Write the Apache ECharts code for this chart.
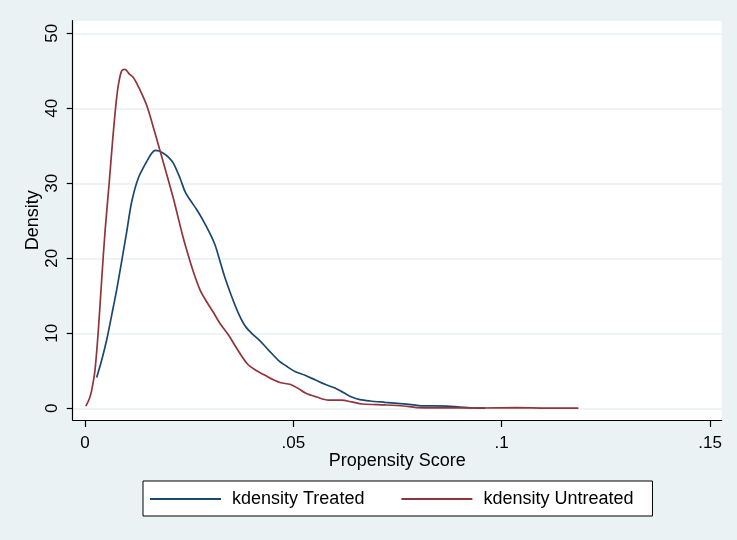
<!DOCTYPE html>
<html>
<head>
<meta charset="utf-8">
<title>Propensity Score kdensity</title>
<script src="https://cdn.jsdelivr.net/npm/echarts@6/dist/echarts.min.js"></script>
<style>
  html, body { margin: 0; padding: 0; background: #eaf2f3; }
  #chart { width: 737px; height: 540px; }
</style>
</head>
<body>
<div id="chart"></div>
<script>
// Kernel density estimates of the propensity score, treated group
const treatedScore = [0.0028, 0.0040, 0.0052, 0.0064, 0.0076, 0.0088, 0.0100, 0.0112, 0.0128, 0.0148,
  0.0160, 0.0168, 0.0178, 0.0188, 0.0200, 0.0212, 0.0228, 0.0240, 0.0252, 0.0268,
  0.0284, 0.0300, 0.0312, 0.0324, 0.0336, 0.0352, 0.0368, 0.0384, 0.0400, 0.0420,
  0.0440, 0.0464, 0.0484, 0.0504, 0.0528, 0.0552, 0.0576, 0.0600, 0.0620, 0.0640,
  0.0660, 0.0684, 0.0720, 0.0764, 0.0790, 0.0812, 0.0840, 0.0868, 0.0900, 0.0932, 0.0960];
const treatedDensity = [4.1, 6.4, 9.1, 12.4, 15.8, 19.6, 23.5, 27.5, 30.7, 32.9,
  34.0, 34.4, 34.3, 34.0, 33.5, 32.7, 30.7, 28.9, 27.8, 26.5,
  25.0, 23.3, 21.8, 19.6, 17.4, 14.9, 12.7, 11.0, 10.0, 9.0,
  7.8, 6.4, 5.6, 4.9, 4.4, 3.8, 3.2, 2.7, 2.1, 1.5,
  1.15, 0.97, 0.80, 0.60, 0.45, 0.32, 0.32, 0.30, 0.15, 0.04, 0.02];

// Kernel density estimates of the propensity score, untreated group
const untreatedScore = [0.0002, 0.0010, 0.0016, 0.0024, 0.0032, 0.0040, 0.0048, 0.0058, 0.0066, 0.0074,
  0.0080, 0.0088, 0.0096, 0.0106, 0.0116, 0.0128, 0.0148, 0.0168, 0.0192, 0.0212,
  0.0234, 0.0244, 0.0260, 0.0276, 0.0292, 0.0308, 0.0324, 0.0344, 0.0364, 0.0390,
  0.0412, 0.0432, 0.0452, 0.0470, 0.0492, 0.0510, 0.0530, 0.0556, 0.0584, 0.0616,
  0.0640, 0.0666, 0.0720, 0.0764, 0.0796, 0.0860, 0.0950, 0.1036, 0.1100, 0.1184];
const untreatedDensity = [0.3, 1.2, 2.4, 5.1, 10.4, 17.1, 23.5, 30.0, 35.5, 40.4,
  43.1, 45.0, 45.2, 44.6, 44.1, 42.9, 40.4, 36.7, 32.0, 28.0,
  23.1, 21.1, 18.2, 15.8, 14.2, 12.8, 11.3, 9.8, 8.0, 5.9,
  5.0, 4.4, 3.8, 3.4, 3.2, 2.7, 2.0, 1.5, 1.1, 1.1,
  0.85, 0.57, 0.45, 0.31, 0.10, 0.06, 0.04, 0.08, 0.03, 0.02];

const seriesNames = ['kdensity Treated', 'kdensity Untreated'];

// Axis ticks and their printed labels
const xTickValues = [0, 0.05, 0.1, 0.15];
const xTickLabels = ['0', '.05', '.1', '.15'];
const yTickValues = [0, 10, 20, 30, 40, 50];
const yTickLabels = ['0', '10', '20', '30', '40', '50'];

const zip = (xs, ys) => xs.map((x, i) => [x, ys[i]]);
const labelFor = (values, labels) => (v) => {
  let best = 0;
  values.forEach((t, i) => { if (Math.abs(t - v) < Math.abs(values[best] - v)) best = i; });
  return labels[best];
};

const FONT = '"Liberation Sans", Arial, sans-serif';
const chart = echarts.init(document.getElementById('chart'), null, { renderer: 'canvas' });

chart.setOption({
  backgroundColor: '#eaf2f3',
  animation: false,
  grid: {
    left: 72.7, top: 20.7, right: 15.3, bottom: 120,
    show: true, backgroundColor: '#ffffff', borderWidth: 0, containLabel: false
  },
  xAxis: {
    type: 'value',
    min: -0.00295, max: 0.1528,
    name: 'Propensity Score',
    nameLocation: 'middle',
    nameGap: 32,
    nameMoveOverlap: false,
    nameTextStyle: { fontFamily: FONT, fontSize: 18, color: '#000' },
    axisLine: { show: true, onZero: false, lineStyle: { color: '#000', width: 1.2 } },
    axisTick: { show: true, length: 7, lineStyle: { color: '#000', width: 1.2 }, customValues: xTickValues },
    axisLabel: {
      customValues: xTickValues, margin: 15,
      fontFamily: FONT, fontSize: 17, color: '#000',
      formatter: labelFor(xTickValues, xTickLabels)
    },
    splitLine: { show: false }
  },
  yAxis: {
    type: 'value',
    min: -1.56, max: 51.68,
    name: 'Density',
    nameLocation: 'middle',
    nameRotate: 90,
    nameGap: 31,
    nameMoveOverlap: false,
    nameTextStyle: { fontFamily: FONT, fontSize: 18, color: '#000' },
    axisLine: { show: true, onZero: false, lineStyle: { color: '#000', width: 1.2 } },
    axisTick: { show: true, length: 6, lineStyle: { color: '#000', width: 1.2 }, customValues: yTickValues },
    axisLabel: {
      customValues: yTickValues, margin: 12, rotate: 90,
      fontFamily: FONT, fontSize: 17, color: '#000',
      formatter: labelFor(yTickValues, yTickLabels)
    },
    splitLine: { show: true, lineStyle: { color: '#e8f0f2', width: 1.6 } }
  },
  legend: {
    left: 143, top: 481,
    orient: 'horizontal',
    data: seriesNames,
    icon: 'rect',
    itemWidth: 71, itemHeight: 2,
    itemGap: 37,
    padding: [9, 19, 8, 7],
    backgroundColor: '#ffffff',
    borderColor: '#000', borderWidth: 1,
    textStyle: { fontFamily: FONT, fontSize: 18, color: '#000', padding: [0, 0, 0, 6] }
  },
  series: [
    {
      name: seriesNames[0], type: 'line',
      data: zip(treatedScore, treatedDensity),
      showSymbol: false, smooth: 0.3,
      lineStyle: { color: '#1a476f', width: 1.7 },
      itemStyle: { color: '#1a476f' }, z: 3
    },
    {
      name: seriesNames[1], type: 'line',
      data: zip(untreatedScore, untreatedDensity),
      showSymbol: false, smooth: 0.3,
      lineStyle: { color: '#90353b', width: 1.7 },
      itemStyle: { color: '#90353b' }, z: 4
    }
  ]
});
</script>
</body>
</html>
